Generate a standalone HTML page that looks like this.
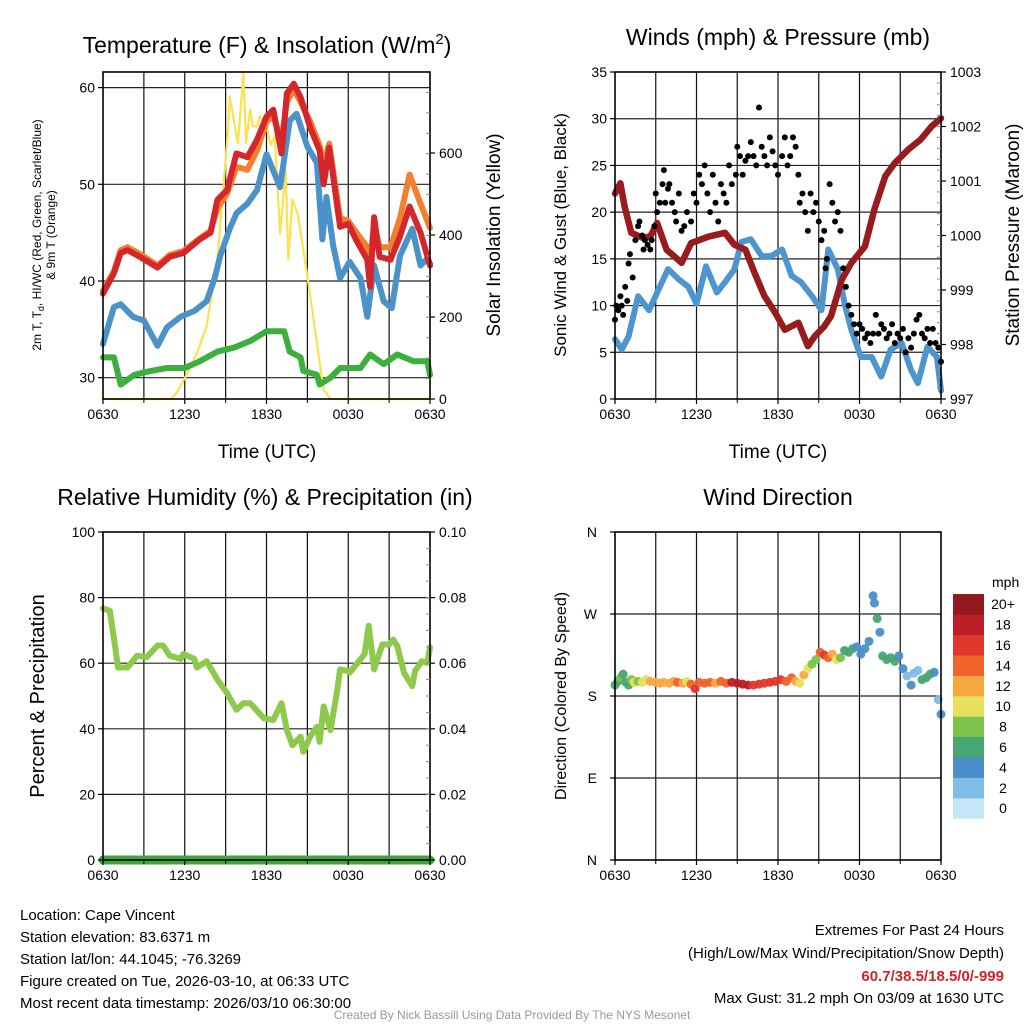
<!DOCTYPE html>
<html><head><meta charset="utf-8"><title>Cape Vincent Meteogram</title>
<style>
html,body{margin:0;padding:0;background:#fff;}
svg{display:block;font-family:"Liberation Sans",sans-serif;}
</style></head>
<body>
<svg id="chart" width="1024" height="1024" viewBox="0 0 1024 1024" xmlns="http://www.w3.org/2000/svg"></svg>
<script>
// ---------- DATA ----------
const xTickLabels = ["0630","1230","1830","0030","0630"];
// Temperature panel
const tempHours = [0,0.8,1.3,1.8,2.7,4,4.9,5.9,7.1,7.9,8.4,9.1,9.8,10.6,11.3,12,12.5,13.1,13.5,14,14.5,15.2,15.9,16.2,16.6,17.4,18,18.6,19.4,19.6,19.9,20.3,21.1,21.8,22.5,23.3,24];
const tempRed = [38.7,40.8,42.9,43.2,42.5,41.4,42.5,42.9,44.3,45,48.4,49.4,53.2,52.8,54.6,57,57.7,53.2,59.4,60.4,59,55.9,53.5,50,53.8,45.6,45.9,44.2,42.2,39.4,46.6,42.5,42.2,44.6,47.7,45,41.6];
const tempOrange = [39,41,43.2,43.5,42.8,41.6,42.7,43.1,44.4,45.2,47.5,49,51.8,51.5,53.5,56.5,57,54.5,58.5,59.8,58.5,56.5,54,52,54.2,46.5,46.2,45,43.5,42,45.8,43.5,43.5,46.5,51,48,45.5];
const hiwcHours = [0,0.8,1.3,2.2,3,4,4.7,5.7,6.7,7.6,8.2,8.6,9.3,9.8,10.6,11.3,12,13,13.7,14.2,15,15.7,16.1,16.4,16.9,17.4,18.1,18.9,19.4,19.9,20.6,21.2,21.8,22.7,23.3,23.8,24];
const hiwcBlue = [33.5,37.3,37.6,36.3,35.9,33.3,35.2,36.3,36.9,37.9,40.3,42.6,45.4,47,48,49.4,53.1,49.7,56.6,57.3,53.9,52.2,44.3,48.7,43.6,40.3,42,40.3,36.3,41.6,37.9,37.2,42.6,45.4,41.6,42.3,41.8];
const dewHours = [0,0.8,1.3,2.3,3.5,4.7,6,7.1,8.4,9.6,10.8,12,13.3,13.7,14.5,14.7,15.7,15.9,16.7,17.4,18.9,19.6,20.6,21.6,22.8,23.8,24];
const dewGreen = [32.1,32.1,29.3,30.3,30.7,31,31,31.7,32.7,33.1,33.8,34.8,34.8,32.7,32.1,30.7,30.3,29.3,30,31,31,32.4,31.4,32.4,31.7,31.7,30.3];
const solarHours = [0,5,5.4,6.2,6.9,7.6,8.4,8.8,9.2,9.3,9.6,9.9,10.1,10.3,10.5,10.8,11,11.3,11.5,12,12.3,12.6,13,13.4,13.6,13.9,14.3,15,15.7,16.2,16.7,24];
const solarW = [0,0,15,63,112,177,340,502,665,738,681,624,706,795,624,706,665,665,690,665,620,640,403,558,340,487,450,300,137,23,0,0];
const tempTicks = [30,40,50,60];
const solarTicks = [0,200,400,600];
// Wind panel
const windHours = [0,0.5,1,1.7,2.5,3.2,3.9,4.7,5.4,6,6.7,7.5,8.1,8.8,9.3,10,10.8,11.5,12.3,13,13.7,14.5,15.2,15.7,16.4,16.9,17.4,18.1,18.9,19.6,20.3,21.1,21.8,22.3,23,23.7,24];
const windSpeed = [6.4,5.3,6.7,11,9.5,11.7,13.9,12.8,12,10.2,14.2,11.4,12.5,13.9,16.8,17.1,15.3,15.3,16,13.2,12.5,11,9.5,16,13.9,10.2,7.4,4.5,4.5,2.4,5.3,6,3.1,1.7,5.6,4.5,0.9];
const gustHours = [0,0.1,0.25,0.4,0.5,0.6,0.75,0.9,1,1.1,1.3,1.5,1.7,1.8,2,2.1,2.2,2.4,2.6,2.7,2.9,3,3.1,3.3,3.5,3.6,3.7,3.9,4,4.2,4.4,4.5,4.7,4.9,5.1,5.3,5.6,5.8,6,6.2,6.4,6.6,6.8,7,7.2,7.4,7.6,7.8,8,8.2,8.4,8.6,8.9,9,9.2,9.4,9.6,9.8,10,10.2,10.4,10.6,10.8,11,11.2,11.4,11.6,11.8,12,12.3,12.5,12.7,12.9,13.1,13.3,13.5,13.6,13.8,14,14.2,14.4,14.6,14.8,15,15.2,15.4,15.5,15.6,15.8,16,16.2,16.4,16.6,16.8,17,17.2,17.4,17.6,17.8,18,18.2,18.4,18.6,18.8,19,19.2,19.4,19.6,19.8,20,20.2,20.4,20.6,20.8,21,21.2,21.4,21.6,21.8,22,22.2,22.4,22.6,22.8,23,23.2,23.4,23.6,23.8,24];
const gustSpeed = [8.5,10,9.5,11,10,9,12,10.5,14.5,15.5,13,17,18.5,19,17.5,16,17,16.5,16,17,18.5,22,20,21,23,24.5,21,22.5,23,21,20,19,22,18,18.5,20,19,22,21,24,23,25,22,20,24,21,19,23,22,21,25,23,24,27,26,24,25.5,26,27.5,26,25,31.2,27,26,25,28,26.5,25,24,26,28,25,26,28,27,24,21,22,20,18,22,20,21,19,17,18,14,15,23,21,19,20,18,14,12,10,9,8,7,8,7.5,6.5,7,6,7,9,7,8,7.5,6.5,7,8,6,7,6.5,7.5,5,6.5,5.5,7,8.5,9,7,6.5,7.5,6,7.5,6,5.5,4];
const presHours = [0,0.4,0.7,1.2,2,2.6,3.1,3.8,4.9,5.6,6.9,8.1,8.8,9.6,10.3,11,11.8,12.5,13.5,14.2,14.7,15.4,15.9,16.7,17.4,18.4,19.1,19.9,20.6,21.6,22.5,23.3,24];
const presMb = [1000.77,1000.96,1000.54,1000.05,999.96,999.98,1000.23,999.74,999.5,999.86,999.98,1000.05,999.83,999.74,999.3,998.89,998.58,998.27,998.4,997.97,998.15,998.33,998.52,999.19,999.5,999.8,1000.48,1001.09,1001.33,1001.58,1001.76,1002,1002.15];
const windTicks = [0,5,10,15,20,25,30,35];
const presTicks = [997,998,999,1000,1001,1002,1003];
// RH panel
const rhHours = [0,0.5,0.9,1.1,1.8,2.5,3.2,4,4.4,4.9,5.7,5.9,6.7,6.9,7.6,8.4,9.1,9.8,10.3,10.8,11.8,12.5,13.1,13.5,13.9,14.5,14.7,15.2,15.7,15.9,16.2,16.7,17.2,17.4,18,18.1,18.9,19.2,19.5,19.9,20.5,21,21.3,21.6,22.1,22.7,22.9,23.4,23.8,24];
const rhPct = [76.7,76,64.8,58.7,58.7,62.3,61.8,65.4,65.4,62.3,61.3,62.8,61.3,58.7,60.6,55,50.9,45.8,47.8,47.8,43.2,42.7,47.8,39.6,35,37.6,33,37.6,40.6,36,46.8,39.6,52,58.1,57.6,57.1,61.2,62.8,71.4,58.1,65.7,65.7,67.2,65.2,57,53,57.6,60.6,60.1,64.8];
const precipHours = [0,24];
const precipIn = [0,0];
const rhTicks = [0,20,40,60,80,100];
const precipTicks = ["0.00","0.02","0.04","0.06","0.08","0.10"];
// Wind direction panel
const dirHours = [0,0.2,0.4,0.6,0.8,1,1.2,1.4,1.7,2,2.3,2.6,3,3.3,3.6,4,4.3,4.6,5,5.3,5.6,5.9,6.2,6.6,7,7.4,7.8,8.2,8.6,9,9.4,9.8,10.2,10.6,11,11.4,11.8,12.2,12.6,13,13.3,13.6,13.9,14.2,14.5,14.8,15.1,15.4,15.7,16,16.3,16.6,16.9,17.2,17.5,17.8,18.1,18.4,18.7,19,19.1,19.3,19.5,19.7,20,20.3,20.6,20.9,21.2,21.5,21.8,22,22.3,22.6,22.9,23.2,23.5,23.8,24];
const dirDeg = [192,196,200,204,195,192,198,195,196,195,198,196,195,194,195,194,196,195,194,196,193,188,195,194,195,194,196,194,195,194,193,192,192,193,194,195,196,198,196,200,196,194,203,210,215,220,228,225,222,226,220,222,230,228,232,234,226,232,240,290,282,265,250,224,220,222,218,224,210,202,192,205,208,198,200,204,206,176,160];
const dirSpeed = [6,6,8,6,6,7,8,10,9,10,11,12,12,13,12,13,12,14,13,11,14,16,14,15,14,13,14,15,18,18,18,18,17,17,16,17,16,16,15,14,12,10,12,10,8,9,14,16,14,12,10,8,6,7,6,4,4,4,4,4,4,6,4,6,6,6,6,5,4,3,4,2,2,6,6,6,4,3,4];
const dirTickLabels = ["N","E","S","W","N"];
const speedBins = ["0","2","4","6","8","10","12","14","16","18","20+"];
const binColors = ["#c5e6f7","#7fbde6","#4a8fc7","#47a672","#7dc24b","#e6e05c","#f7a941","#f0632a","#df372b","#bd1d25","#921a1c"];

// ---------- HELPERS ----------
const NS = "http://www.w3.org/2000/svg";
const svg = document.getElementById("chart");
function el(tag, attrs, parent, text) {
  const e = document.createElementNS(NS, tag);
  for (const k in attrs) e.setAttribute(k, attrs[k]);
  if (text !== undefined) e.textContent = text;
  (parent || svg).appendChild(e);
  return e;
}
function lin(d0, d1, r0, r1) { return v => r0 + (v - d0) * (r1 - r0) / (d1 - d0); }

function panel(name, x0, x1, y0, y1) {
  const g = el("g", {});
  
  
  return {g, x0, x1, y0, y1, xs: lin(0, 24, x0, x1)};
}
function grid(p, yvals, ys) {
  for (let h = 3; h < 24; h += 3) {
    const l = el("line", {x1: p.xs(h), x2: p.xs(h), y1: p.y0, y2: p.y1, stroke: "#111", "stroke-width": 1.2}, p.g);
    
    
  }
  yvals.forEach(v => {
    const l = el("line", {x1: p.x0, x2: p.x1, y1: ys(v), y2: ys(v), stroke: "#222", "stroke-width": 1.2}, p.g);
    
    
  });
}
function frame(p) {
  const r = el("rect", {x: p.x0, y: p.y0, width: p.x1 - p.x0, height: p.y1 - p.y0, fill: "none", stroke: "#000", "stroke-width": 1.6}, p.g);
  
  
}
function xAxis(p) {
  xTickLabels.forEach((t, i) => {
    const x = p.xs(i * 6);
    el("line", {x1: x, x2: x, y1: p.y1, y2: p.y1 + 5, stroke: "#000", "stroke-width": 1.2}, p.g);
    const tx = el("text", {x: x, y: p.y1 + 20, "font-size": 14, "text-anchor": "middle"}, p.g, t);
    
    
  });
  for (let h = 3; h < 24; h += 6) {
    el("line", {x1: p.xs(h), x2: p.xs(h), y1: p.y1, y2: p.y1 + 4, stroke: "#000"}, p.g);
  }
}
function yLabels(p, vals, ys, labels, side) {
  vals.forEach((v, i) => {
    const y = ys(v);
    const lab = labels ? labels[i] : String(v);
    if (side === "left") {
      el("line", {x1: p.x0 - 5, x2: p.x0, y1: y, y2: y, stroke: "#000", "stroke-width": 1.2}, p.g);
      const t = el("text", {x: p.x0 - 8, y: y + 5, "font-size": 14, "text-anchor": "end"}, p.g, lab);
      
      
    } else {
      el("line", {x1: p.x1, x2: p.x1 + 5, y1: y, y2: y, stroke: "#000", "stroke-width": 1.2}, p.g);
      const t = el("text", {x: p.x1 + 9, y: y + 5, "font-size": 14, "text-anchor": "start"}, p.g, lab);
      
      
    }
  });
}
function minorRight(p, n) {
  for (let i = 1; i < n; i++) {
    const y = p.y0 + (p.y1 - p.y0) * i / n;
    el("line", {x1: p.x1 - 4, x2: p.x1, y1: y, y2: y, stroke: "#888"}, p.g);
  }
}
function pathFrom(xs, ys, hrs, vals) {
  return hrs.map((h, i) => (i ? "L" : "M") + xs(h).toFixed(1) + "," + ys(vals[i]).toFixed(1)).join(" ");
}
function series(p, name, hrs, vals, ys, color, w) {
  const s = el("path", {d: pathFrom(p.xs, ys, hrs, vals), fill: "none", stroke: color, "stroke-width": w, "stroke-linejoin": "round", "stroke-linecap": "round"}, p.g);
  
  
  return s;
}
function title(x, y, txt, name, size) {
  const t = el("text", {x: x, y: y, "font-size": size || 23, "text-anchor": "middle"}, svg, txt);
  
  
  return t;
}
function vtext(x, y, txt, name, size) {
  const t = el("text", {x: 0, y: 0, "font-size": size, "text-anchor": "middle", transform: `translate(${x},${y}) rotate(-90)`}, svg, txt);
  
  
  return t;
}
function speedColor(s) { return binColors[Math.max(0, Math.min(10, Math.floor(s / 2)))]; }

// ---------- PANEL 1: TEMPERATURE ----------
const p1 = panel("temperature-panel", 103, 430, 72, 399);
const tY = lin(30, 60, 377.7, 87.6);
const sY = lin(0, 600, 399, 153);
grid(p1, tempTicks, tY);
series(p1, "solar-insolation-line", solarHours, solarW, sY, "#fbe24e", 2.2);
series(p1, "dewpoint-line", dewHours, dewGreen, tY, "#3daf3d", 6);
series(p1, "heat-index-windchill-line", hiwcHours, hiwcBlue, tY, "#4b92c9", 6);
series(p1, "temp-9m-line", tempHours, tempOrange, tY, "#f4802f", 6);
series(p1, "temp-2m-line", tempHours, tempRed, tY, "#d5262b", 6);
frame(p1); xAxis(p1);
yLabels(p1, tempTicks, tY, null, "left");
yLabels(p1, solarTicks, sY, null, "right");
minorRight(p1, 16);
const t1 = title(267, 53, "", "temperature-title");
t1.innerHTML = 'Temperature (F) &amp; Insolation (W/m<tspan dy="-9" font-size="15">2</tspan><tspan dy="9">)</tspan>';
title(267, 458, "Time (UTC)", "x-axis-title", 19);
vtext(500, 235, "Solar Insolation (Yellow)", "solar-axis-title", 19);
const yl = el("text", {x: 0, y: 0, "font-size": 12, "text-anchor": "middle", transform: "translate(41,235) rotate(-90)"});


yl.innerHTML = '2m T, T<tspan dy="3" font-size="9">d</tspan><tspan dy="-3">, HI/WC (Red, Green, Scarlet/Blue)</tspan>';
vtext(55, 235, "& 9m T (Orange)", "temperature-axis-title-2", 12);

// ---------- PANEL 2: WINDS ----------
const p2 = panel("wind-pressure-panel", 615, 941, 72, 399);
const wY = lin(0, 35, 399, 72);
const pY = lin(997, 1003, 399, 72);
grid(p2, windTicks.slice(1, -1), wY);
series(p2, "sonic-wind-line", windHours, windSpeed, wY, "#4c95cf", 6);
series(p2, "pressure-line", presHours, presMb, pY, "#981b1e", 6.5);
gustHours.forEach((h, i) => {
  const c = el("circle", {cx: p2.xs(h), cy: wY(gustSpeed[i]), r: 3, fill: "#000"}, p2.g);
  
  
});
frame(p2); xAxis(p2);
yLabels(p2, windTicks, wY, null, "left");
yLabels(p2, presTicks, pY, null, "right");
minorRight(p2, 30);
title(778, 45, "Winds (mph) & Pressure (mb)", "wind-title");
title(778, 458, "Time (UTC)", "x-axis-title-2", 19);
vtext(566, 235, "Sonic Wind & Gust (Blue, Black)", "wind-axis-title", 17);
vtext(1019, 235, "Station Pressure (Maroon)", "pressure-axis-title", 19);

// ---------- PANEL 3: RH ----------
const p3 = panel("humidity-panel", 103, 430, 532, 860);
const rY = lin(0, 100, 860, 532);
grid(p3, rhTicks.slice(1, -1), rY);
series(p3, "relative-humidity-line", rhHours, rhPct, rY, "#8dc94b", 6);
series(p3, "precipitation-line", precipHours, precipIn.map(v => v * 1000), rY, "#3aa83a", 9);
frame(p3); xAxis(p3);
yLabels(p3, rhTicks, rY, null, "left");
yLabels(p3, rhTicks, rY, precipTicks, "right");
minorRight(p3, 20);
title(265, 505, "Relative Humidity (%) & Precipitation (in)", "humidity-title");
vtext(44, 696, "Percent & Precipitation", "humidity-axis-title", 20);

// ---------- PANEL 4: WIND DIRECTION ----------
const p4 = panel("wind-direction-panel", 615, 941, 532, 860);
const dY = lin(0, 360, 860, 532);
grid(p4, [90, 180, 270], dY);
dirHours.forEach((h, i) => {
  const c = el("circle", {cx: p4.xs(h), cy: dY(dirDeg[i]), r: 4.5, fill: speedColor(dirSpeed[i]), "fill-opacity": 0.95}, p4.g);
  
  
});
frame(p4); xAxis(p4);
dirTickLabels.forEach((lab, i) => {
  const y = dY(i * 90);
  el("line", {x1: p4.x0 - 5, x2: p4.x0, y1: y, y2: y, stroke: "#000", "stroke-width": 1.2}, p4.g);
  const t = el("text", {x: p4.x0 - 18, y: y + 5, "font-size": 14, "text-anchor": "end"}, p4.g, lab);
  
  
});
title(778, 505, "Wind Direction", "direction-title");
vtext(566, 696, "Direction (Colored By Speed)", "direction-axis-title", 16);

// colorbar
const cb = el("g", {});


const cbTop = 594, cbH = 20.4;
speedBins.forEach((lab, i) => {
  const y = cbTop + (10 - i) * cbH;
  const r = el("rect", {x: 953, y: y, width: 31, height: cbH + 0.3, fill: binColors[i]}, cb);
  
  
  const t = el("text", {x: 1003, y: y + cbH / 2 + 5, "font-size": 14, "text-anchor": "middle"}, cb, lab);
  
  
});
const mph = el("text", {x: 992, y: 587, "font-size": 14}, cb, "mph");



// ---------- FOOTER ----------
const leftLines = ["Location: Cape Vincent","Station elevation: 83.6371 m","Station lat/lon: 44.1045; -76.3269","Figure created on Tue, 2026-03-10, at 06:33 UTC","Most recent data timestamp: 2026/03/10 06:30:00"];
leftLines.forEach((s, i) => {
  const t = el("text", {x: 20, y: 920 + i * 22, "font-size": 15}, svg, s);
  
  
});
const rightLines = [["Extremes For Past 24 Hours", 935, "#000", "normal"],["(High/Low/Max Wind/Precipitation/Snow Depth)", 958, "#000", "normal"],["60.7/38.5/18.5/0/-999", 981, "#d0232a", "bold"],["Max Gust: 31.2 mph On 03/09 at 1630 UTC", 1003, "#000", "normal"]];
rightLines.forEach(r => {
  const t = el("text", {x: 1004, y: r[1], "font-size": 15, "text-anchor": "end", fill: r[2], "font-weight": r[3]}, svg, r[0]);
  
  
});
const cr = el("text", {x: 512, y: 1019, "font-size": 12, "text-anchor": "middle", fill: "#999"}, svg, "Created By Nick Bassill Using Data Provided By The NYS Mesonet");


</script>
</body></html>
